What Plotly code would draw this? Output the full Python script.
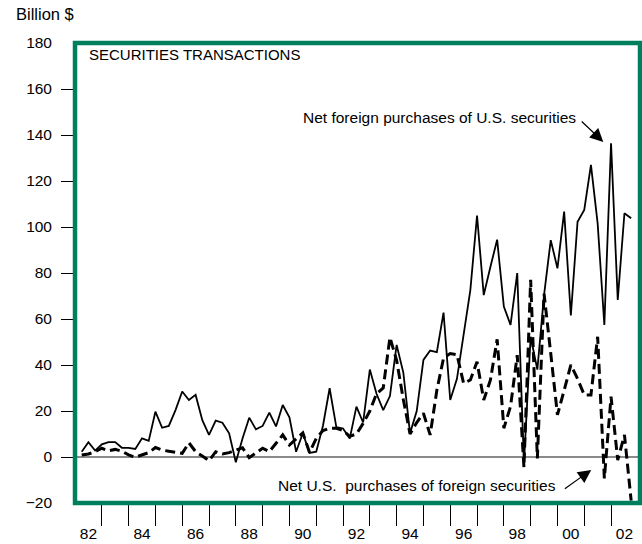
import plotly.graph_objects as go

# Quarterly observations, 1982Q1 .. 2002Q3 (plotted at quarter end)
quarters = [f"{y}Q{q}" for y in range(1982, 2003) for q in range(1, 5)][:83]
x_pos = [int(s[:4]) + int(s[-1]) / 4 for s in quarters]

# Net foreign purchases of U.S. securities (billion $)
foreign_purchases_us = [
    2.3, 6.4, 2.8, 5.5, 6.5, 6.5, 4.0, 4.0, 3.5, 8.1,
    7.0, 19.7, 12.7, 13.5, 20.4, 28.5, 24.8, 27.0, 16.0, 9.6,
    15.8, 14.9, 10.3, -2.3, 8.0, 17.1, 12.0, 13.5, 19.3, 13.3,
    22.6, 17.3, 2.3, 10.3, 1.8, 2.3, 13.5, 29.9, 13.0, 12.4,
    8.0, 21.9, 15.0, 38.0, 27.5, 20.4, 26.5, 48.7, 36.7, 10.3,
    20.0, 42.2, 46.3, 45.6, 62.8, 24.8, 34.0, 53.8, 72.6, 105.0,
    70.4, 82.7, 94.5, 65.4, 57.4, 80.0, -2.7, 52.3, 38.0, 70.4,
    94.3, 82.0, 106.7, 61.5, 102.3, 107.4, 127.0, 101.6, 57.4, 136.4,
    68.3, 106.0, 103.8,
]

# Net U.S. purchases of foreign securities (billion $)
us_purchases_foreign = [
    0.9, 1.3, 2.3, 3.8, 2.7, 3.3, 2.5, 0.9, -0.1, 0.9,
    1.9, 4.1, 3.0, 2.5, 2.0, 1.6, 6.2, 2.3, 0.4, -1.6,
    2.3, 1.3, 1.9, 3.0, 4.0, -0.3, 1.6, 3.8, 2.3, 6.0,
    9.6, 5.2, 7.7, 10.5, 2.0, 8.1, 11.5, 12.5, 12.5, 11.5,
    9.0, 10.0, 14.6, 20.0, 27.5, 30.0, 52.0, 42.0, 25.0, 10.0,
    15.0, 19.0, 9.6, 29.0, 43.0, 45.0, 44.5, 32.0, 33.5, 41.4,
    24.8, 33.5, 51.2, 12.5, 22.0, 44.3, -4.5, 77.0, -0.6, 71.0,
    45.0, 18.3, 29.0, 40.0, 34.0, 27.0, 27.0, 52.3, -9.3, 26.2,
    -1.3, 9.6, -19.0,
]

year_marks = list(range(1983, 2003))
label_years = list(range(1982, 2003, 2))
label_text = [f"{y % 100:02d}" for y in label_years]
y_labels = list(range(-20, 181, 20))
y_marks = list(range(0, 161, 20))

FONT = "Liberation Sans, Arial, Helvetica, sans-serif"
GREEN = "#007f5f"

fig = go.Figure()
fig.add_trace(go.Scatter(
    x=x_pos, y=us_purchases_foreign, mode="lines",
    line=dict(color="black", width=3, dash="10px,5px"),
    showlegend=False, hoverinfo="skip"))
fig.add_trace(go.Scatter(
    x=x_pos, y=foreign_purchases_us, mode="lines",
    line=dict(color="black", width=1.8),
    showlegend=False, hoverinfo="skip"))

fig.update_layout(
    width=642, height=544,
    margin=dict(l=75, r=2, t=43, b=41),
    paper_bgcolor="white", plot_bgcolor="white",
    font=dict(family=FONT, size=15.5, color="black"),
    xaxis=dict(
        range=[1982, 2003.08], showgrid=False, zeroline=False, showline=False,
        automargin=False,
        tickmode="array", tickvals=[y + 0.5 for y in label_years], ticktext=label_text,
        ticks="", ticklabelstandoff=19,
        minor=dict(tickmode="array", tickvals=year_marks, ticks="outside",
                   ticklen=22, tickwidth=1.3, tickcolor="black", showgrid=False),
    ),
    yaxis=dict(
        range=[-20, 180], showgrid=False, showline=False, automargin=False,
        zeroline=True, zerolinecolor="#8a8a8a", zerolinewidth=1.5,
        tickmode="array", tickvals=y_labels, ticks="", ticklabelstandoff=22,
        minor=dict(tickmode="array", tickvals=y_marks, ticks="outside",
                   ticklen=13, tickwidth=1.3, tickcolor="black", showgrid=False),
    ),
    shapes=[dict(type="rect", xref="paper", yref="paper", x0=0, x1=1, y0=0, y1=1,
                 line=dict(color=GREEN, width=4.5), layer="above")],
)

fig.add_annotation(xref="paper", yref="paper", x=-0.108, y=1.063, text="Billion $",
                   showarrow=False, xanchor="left", yanchor="middle", font=dict(size=16.5))
fig.add_annotation(xref="paper", yref="paper", x=0.021, y=0.974, text="SECURITIES TRANSACTIONS",
                   showarrow=False, xanchor="left", yanchor="middle", font=dict(size=15))
fig.add_annotation(xref="x", yref="y", x=2000.78, y=147.6,
                   text="Net foreign purchases of U.S. securities",
                   showarrow=False, xanchor="right", yanchor="middle", font=dict(size=15.5))
fig.add_annotation(xref="x", yref="y", x=2001.71, y=137.0, axref="x", ayref="y",
                   ax=2000.85, ay=146.5, text="", showarrow=True,
                   arrowhead=2, arrowsize=2.2, arrowwidth=1.2, arrowcolor="black")
fig.add_annotation(xref="x", yref="y", x=2000.03, y=-12.2,
                   text="Net U.S.  purchases of foreign securities",
                   showarrow=False, xanchor="right", yanchor="middle", font=dict(size=15.5))
fig.add_annotation(xref="x", yref="y", x=2001.26, y=-5.6, axref="x", ayref="y",
                   ax=2000.22, ay=-14.3, text="", showarrow=True,
                   arrowhead=2, arrowsize=2.2, arrowwidth=1.2, arrowcolor="black")

fig.write_html("out.html", config={"displayModeBar": False},
               post_script="document.body.style.margin='0';document.body.style.padding='0';")
